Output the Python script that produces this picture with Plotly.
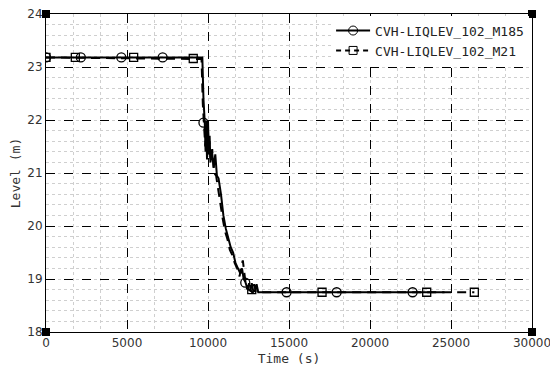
import plotly.graph_objects as go

# ---- data ----
t_m185 = [0, 9650, 9720, 9800, 9850, 9900, 9950, 10000, 10050, 10100, 10150, 10250, 10350,
          10450, 10550, 10650, 10800, 10950, 11100, 11250, 11400, 11550, 11700, 11850, 12000,
          12100, 12200, 12300, 12400, 12500, 12600, 12700, 12800, 12900, 13000, 13100, 24600]
lvl_m185 = [23.18, 23.18, 22.4, 21.95, 21.4, 21.9, 21.3, 22.0, 21.35, 21.7, 21.2, 21.4, 21.1,
            21.35, 20.95, 20.9, 20.6, 20.2, 19.95, 19.75, 19.6, 19.5, 19.3, 19.2, 19.1,
            19.2, 19.0, 18.95, 18.85, 18.8, 18.78, 18.92, 18.76, 18.78, 18.9, 18.75, 18.75]

t_m21 = [0, 9600, 9680, 9760, 9830, 9880, 9940, 9990, 10040, 10090, 10160, 10260, 10380,
         10500, 10620, 10750, 10900, 11050, 11200, 11350, 11500, 11650, 11800, 11950, 12050,
         12150, 12250, 12350, 12450, 12550, 12650, 12750, 12850, 12950, 13050, 26440]
lvl_m21 = [23.18, 23.15, 22.3, 21.9, 21.5, 22.0, 21.25, 21.9, 21.4, 21.6, 21.25, 21.45, 21.0,
           20.95, 20.7, 20.45, 20.15, 19.9, 19.75, 19.55, 19.45, 19.3, 19.2, 19.05, 19.25,
           19.35, 19.05, 18.85, 18.8, 18.95, 18.78, 18.74, 18.9, 18.76, 18.75, 18.75]

mk_t_m185 = [0, 2150, 4650, 7200, 9720, 12300, 14850, 17940, 22630]
mk_lvl_m185 = [23.18, 23.18, 23.18, 23.18, 21.95, 18.93, 18.75, 18.75, 18.75]
mk_t_m21 = [0, 1810, 5410, 9090, 12700, 17040, 23500, 26440]
mk_lvl_m21 = [23.18, 23.18, 23.18, 23.16, 18.8, 18.75, 18.75, 18.75]

names = ["CVH-LIQLEV_102_M185", "CVH-LIQLEV_102_M21"]
x_ticks = [0, 5000, 10000, 15000, 20000, 25000, 30000]
y_ticks = [18, 19, 20, 21, 22, 23, 24]
corner_x = [0, 0, 30000, 30000]
corner_y = [18, 24, 18, 24]

mono = "DejaVu Sans Mono"
fig = go.Figure()

# lines
fig.add_trace(go.Scatter(x=t_m185, y=lvl_m185, mode="lines", showlegend=False,
                         line=dict(color="black", width=2)))
fig.add_trace(go.Scatter(x=t_m21, y=lvl_m21, mode="lines", showlegend=False,
                         line=dict(color="black", width=2, dash="9px,6px")))
# markers
fig.add_trace(go.Scatter(x=mk_t_m185, y=mk_lvl_m185, mode="markers", showlegend=False,
                         marker=dict(symbol="circle-open", size=9, color="black",
                                     line=dict(width=1.3, color="black"))))
fig.add_trace(go.Scatter(x=mk_t_m21, y=mk_lvl_m21, mode="markers", showlegend=False,
                         marker=dict(symbol="square-open", size=8, color="black",
                                     line=dict(width=1.3, color="black"))))
# legend entries
fig.add_trace(go.Scatter(x=[None], y=[None], mode="lines+markers", name=names[0],
                         line=dict(color="black", width=2),
                         marker=dict(symbol="circle-open", size=9, color="black")))
fig.add_trace(go.Scatter(x=[None], y=[None], mode="lines+markers", name=names[1],
                         line=dict(color="black", width=2, dash="5px,4px"),
                         marker=dict(symbol="square-open", size=8, color="black")))
# corner squares
fig.add_trace(go.Scatter(x=corner_x, y=corner_y, mode="markers", showlegend=False,
                         cliponaxis=False, hoverinfo="skip",
                         marker=dict(symbol="square", size=8, color="black")))

fig.update_layout(
    width=550, height=366,
    margin=dict(l=38, r=26, t=6, b=42, autoexpand=False),
    paper_bgcolor="white", plot_bgcolor="white",
    showlegend=True,
    legend=dict(x=0.994, y=0.995, xanchor="right", yanchor="top",
                bgcolor="white", borderwidth=0,
                font=dict(family=mono, size=13, color="#222"),
                tracegroupgap=0, itemwidth=34),
    font=dict(family="DejaVu Sans", size=12, color="#333"),
)
fig.update_xaxes(
    range=[0, 30000], tickvals=x_ticks, ticktext=[str(v) for v in x_ticks],
    showline=True, linecolor="black", linewidth=1, mirror=True, automargin=False,
    showgrid=True, gridcolor="black", griddash="dash", gridwidth=1,
    zeroline=False, ticks="", tickfont=dict(size=12, color="#333"),
    ticklabeloverflow="allow",
    title=dict(text="Time (s)", font=dict(family=mono, size=13, color="#333"), standoff=4),
    minor=dict(dtick=5000 / 3, tick0=0, showgrid=True, gridcolor="#cfcfcf",
               griddash="dot", gridwidth=1),
)
fig.update_yaxes(
    range=[18, 24], tickvals=y_ticks, ticktext=[str(v) for v in y_ticks],
    showline=True, linecolor="black", linewidth=1, mirror=True, automargin=False,
    showgrid=True, gridcolor="black", griddash="dash", gridwidth=1,
    zeroline=False, ticks="", tickfont=dict(size=12, color="#333"),
    ticklabeloverflow="allow",
    title=dict(text="Level (m)", font=dict(family=mono, size=13, color="#333"), standoff=4),
    minor=dict(dtick=0.2, tick0=18, showgrid=True, gridcolor="#cfcfcf",
               griddash="dot", gridwidth=1),
)

fig.write_html("out.html")
